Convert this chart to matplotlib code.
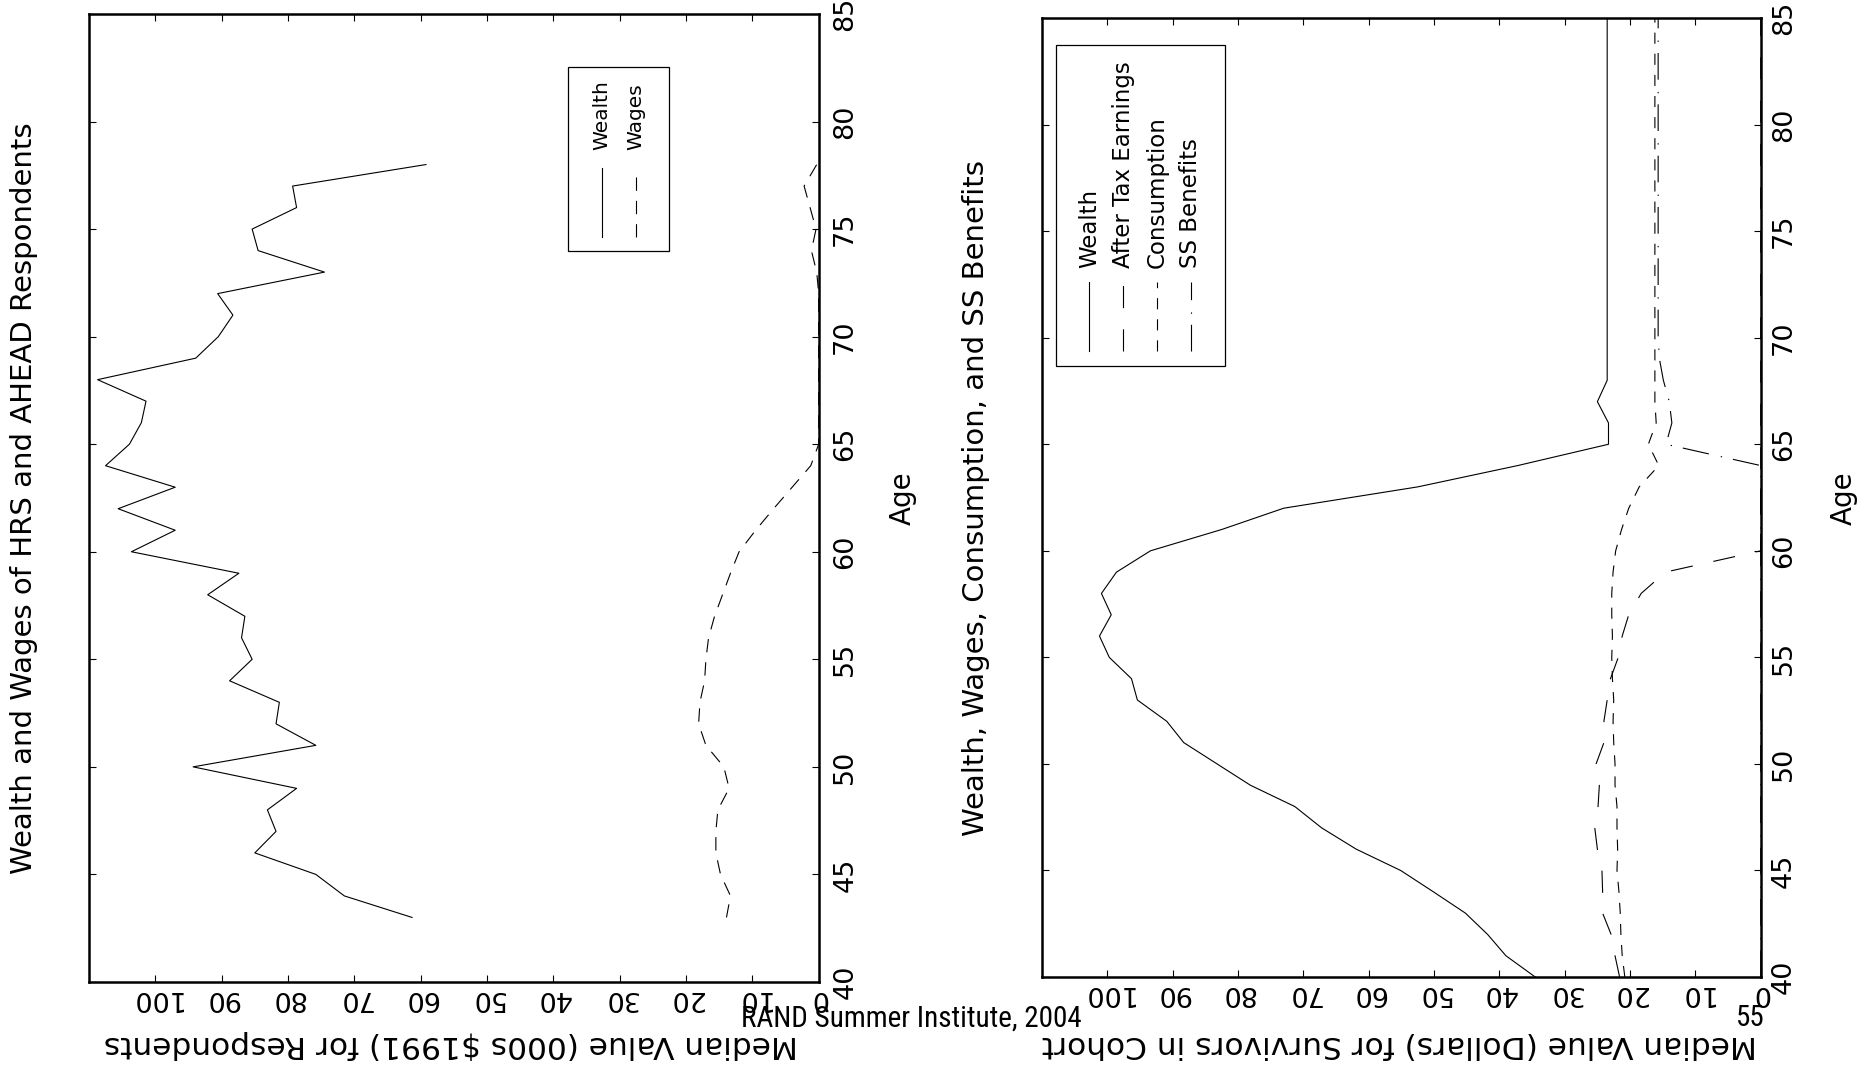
"""Two rotated age profiles: HRS/AHEAD respondents and the simulated cohort."""
import matplotlib

matplotlib.use("Agg")
import matplotlib.pyplot as plt
from matplotlib.patches import Rectangle

# Left panel: medians for HRS and AHEAD respondents (000s $1991)
resp_ages = list(range(43, 79))
resp_wealth = [61.3, 71.5, 75.8, 85.0, 81.8, 83.1, 78.7, 94.3, 75.8, 81.8,
               81.3, 88.8, 85.4, 87.0, 86.5, 92.1, 87.4, 103.6, 97.0, 105.6,
               97.0, 107.5, 103.9, 102.1, 101.4, 108.7, 93.9, 90.5, 88.3, 90.6,
               74.5, 84.5, 85.4, 78.7, 79.3, 59.2]
resp_wages = [13.9, 13.3, 14.8, 15.5, 15.5, 15.2, 13.5, 14.3, 17.0, 18.1,
              17.9, 17.2, 17.0, 16.6, 15.7, 14.5, 13.3, 12.0, 9.5, 6.8,
              4.0, 1.2, 0.0, 0.0, 0.0, 0.0, 0.0, 0.0, 0.0, 0.0,
              0.3, 1.1, 0.4, 1.3, 2.2, 0.3]

# Right panel: medians for survivors in the simulated cohort
cohort_ages = list(range(40, 86))
cohort_wealth = [34.5, 39.0, 41.8, 45.2, 50.1, 55.1, 61.9, 67.2, 71.3, 78.1,
                 83.2, 88.3, 90.9, 95.4, 96.3, 99.7, 101.2, 99.4, 100.9, 98.6,
                 93.4, 82.5, 73.0, 52.5, 37.2, 23.3, 23.3, 25.0, 23.5, 23.5,
                 23.5, 23.5, 23.5, 23.5, 23.5, 23.5, 23.5, 23.5, 23.5, 23.5,
                 23.5, 23.5, 23.5, 23.5, 23.5, 23.5]
cohort_earnings = [21.6, 22.3, 22.9, 24.2, 24.2, 24.3, 25.0, 25.4, 24.9, 24.7,
                   25.2, 24.0, 24.0, 23.5, 23.0, 21.8, 21.2, 20.2, 18.3, 14.6,
                   0.0, 0.0, 0.0, 0.0, 0.0, 0.0, 0.0, 0.0, 0.0, 0.0,
                   0.0, 0.0, 0.0, 0.0, 0.0, 0.0, 0.0, 0.0, 0.0, 0.0,
                   0.0, 0.0, 0.0, 0.0, 0.0, 0.0]
cohort_consumption = [20.8, 21.2, 21.4, 21.5, 21.7, 22.0, 21.9, 22.0, 22.0, 22.3,
                      22.3, 22.5, 22.6, 22.5, 22.7, 22.8, 22.7, 22.8, 22.8, 22.6,
                      22.2, 21.3, 20.2, 18.6, 15.6, 17.2, 16.0, 16.2, 16.2, 16.2,
                      16.2, 16.2, 16.2, 16.2, 16.2, 16.2, 16.2, 16.2, 16.2, 16.2,
                      16.2, 16.2, 16.2, 16.2, 16.2, 16.2]
cohort_ss = [0.0, 0.0, 0.0, 0.0, 0.0, 0.0, 0.0, 0.0, 0.0, 0.0,
             0.0, 0.0, 0.0, 0.0, 0.0, 0.0, 0.0, 0.0, 0.0, 0.0,
             0.0, 0.0, 0.0, 0.0, 0.0, 14.5, 13.6, 14.0, 14.9, 15.5,
             15.7, 15.7, 15.7, 15.7, 15.7, 15.7, 15.7, 15.7, 15.7, 15.7,
             15.7, 15.7, 15.7, 15.7, 15.7, 15.7]

value_ticks = [0, 10, 20, 30, 40, 50, 60, 70, 80, 90, 100]
age_ticks = [40, 45, 50, 55, 60, 65, 70, 75, 80, 85]

FONT = "DejaVu Sans"
LW = 0.8
STYLES = {
    "solid": dict(linestyle="-"),
    "wages": dict(dashes=(12, 9)),
    "earnings": dict(dashes=(20, 19)),
    "consumption": dict(dashes=(10, 9)),
    "ss": dict(dashes=(24, 10, 1.2, 11)),
}


def setup_axes(ax, age_pad):
    """Value runs right-to-left along the bottom, age bottom-to-top on the right."""
    ax.set_xlim(110, -0.05)
    ax.set_ylim(40, 85)
    ax.set_xticks(value_ticks)
    ax.set_xticklabels([str(v) for v in value_ticks])
    ax.set_yticks(age_ticks)
    ax.set_yticklabels([str(a) for a in age_ticks])
    ax.yaxis.tick_right()
    ax.tick_params(axis="both", direction="in", length=5, width=0.8,
                   top=True, bottom=True, left=True, right=True)
    ax.tick_params(axis="x", labelrotation=180, pad=2, labelsize=19.5)
    ax.tick_params(axis="y", labelrotation=90, pad=age_pad, labelsize=19.5)
    for lab in ax.get_yticklabels():
        lab.set_verticalalignment("center")
    for sp in ax.spines.values():
        sp.set_linewidth(1.8)


def draw_legend(ax, box, entries, sample_y, text_y, size):
    """Hand-built legend, rotated with the rest of the panel."""
    x0, y0, x1, y1 = box
    ax.add_patch(Rectangle((x0, y0), x1 - x0, y1 - y0, transform=ax.transAxes,
                           fill=False, lw=0.9, color="black"))
    for x, label, style in entries:
        ax.plot([x, x], sample_y, transform=ax.transAxes, color="black", lw=LW,
                **STYLES[style])
        ax.text(x, text_y, label, rotation=90, ha="center", va="bottom",
                transform=ax.transAxes, fontsize=size)


def main() -> None:
    plt.rcParams["font.family"] = FONT
    fig = plt.figure(figsize=(18.61, 10.67), dpi=100)

    # --- left panel: respondents
    ax1 = fig.add_axes([0.0478, 0.0797, 0.3923, 0.9072])
    ax1.plot(resp_wealth, resp_ages, color="black", lw=LW, **STYLES["solid"])
    ax1.plot(resp_wages, resp_ages, color="black", lw=LW, **STYLES["wages"])
    setup_axes(ax1, age_pad=9.5)
    draw_legend(ax1, (0.656, 0.755, 0.794, 0.945),
                [(0.703, "Wealth", "solid"), (0.749, "Wages", "wages")],
                (0.770, 0.841), 0.859, 14.5)

    # --- right panel: simulated cohort
    ax2 = fig.add_axes([0.5599, 0.0843, 0.3864, 0.8988])
    ax2.plot(cohort_wealth, cohort_ages, color="black", lw=LW, **STYLES["solid"])
    ax2.plot(cohort_earnings, cohort_ages, color="black", lw=LW, **STYLES["earnings"])
    ax2.plot(cohort_consumption, cohort_ages, color="black", lw=LW,
             **STYLES["consumption"])
    ax2.plot(cohort_ss, cohort_ages, color="black", lw=LW, **STYLES["ss"])
    setup_axes(ax2, age_pad=7)
    draw_legend(ax2, (0.020, 0.637, 0.254, 0.972),
                [(0.066, "Wealth", "solid"),
                 (0.113, "After Tax Earnings", "earnings"),
                 (0.160, "Consumption", "consumption"),
                 (0.207, "SS Benefits", "ss")],
                (0.653, 0.725), 0.739, 16.5)

    # Titles and axis labels, turned with the panels
    txt = dict(ha="center", va="center")
    fig.text(0.0129, 0.533, "Wealth and Wages of HRS and AHEAD Respondents",
             rotation=90, fontsize=21, **txt)
    fig.text(0.5243, 0.533, "Wealth, Wages, Consumption, and SS Benefits",
             rotation=90, fontsize=21, **txt)
    fig.text(0.2424, 0.0211, "Median Value (000s $1991) for Respondents",
             rotation=180, fontsize=22.5, **txt)
    fig.text(0.7519, 0.0211, "Median Value (Dollars) for Survivors in Cohort",
             rotation=180, fontsize=22.5, **txt)
    fig.text(0.4852, 0.533, "Age", rotation=90, fontsize=20, **txt)
    fig.text(0.9906, 0.533, "Age", rotation=90, fontsize=20, **txt)

    # Slide footer
    foot = dict(fontsize=21, family=["Liberation Sans Narrow", "Roboto Condensed",
                                     "Roboto"], va="center")
    fig.text(0.4895, 0.0457, "RAND Summer Institute, 2004", ha="center", **foot)
    fig.text(0.9484, 0.0457, "55", ha="right", **foot)

    fig.savefig("out.png", dpi=100)


if __name__ == "__main__":
    main()
